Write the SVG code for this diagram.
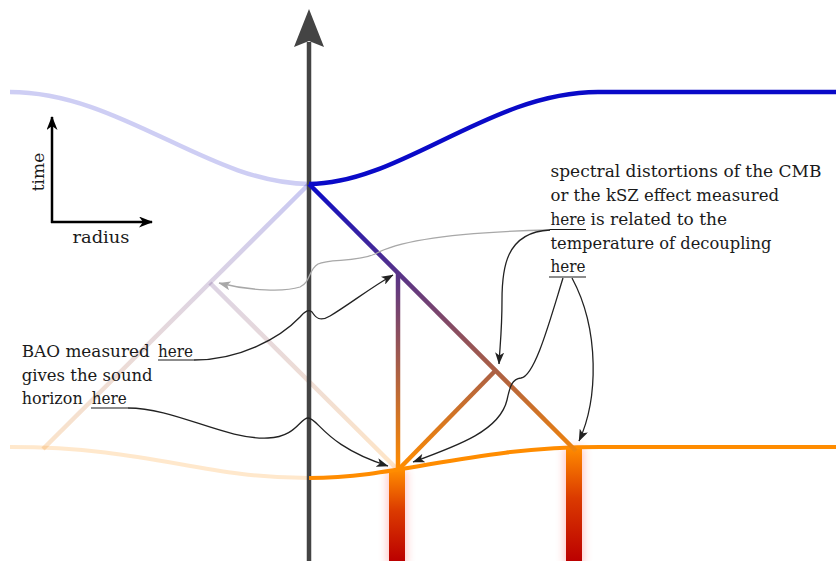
<svg xmlns="http://www.w3.org/2000/svg" width="836" height="561" viewBox="0 0 836 561">
  <style>
    text { font-family: 'DejaVu Serif', serif; font-size: 17px; fill: #1a1a1a; }
    .ul { stroke: #1a1a1a; stroke-width: 1.2; fill: none; }
    .conn { fill: none; stroke: #222; stroke-width: 1.3; marker-end: url(#ah); }
    .connGray { fill: none; stroke: #a8a8a8; stroke-width: 1.3; marker-end: url(#ahGray); }
    .cone { fill: none; stroke: url(#coneGrad); stroke-width: 4.5; stroke-linecap: butt; }
    .coneFaded { fill: none; stroke: url(#coneGrad); stroke-width: 4.5; opacity: 0.22; }
  </style>
  <defs>
    <linearGradient id="coneGrad" gradientUnits="userSpaceOnUse" x1="0" y1="184" x2="0" y2="468">
      <stop offset="0" stop-color="#0a0ac8"/>
      <stop offset="1" stop-color="#ff8c00"/>
    </linearGradient>
    <linearGradient id="barGrad" x1="0" y1="0" x2="0" y2="1">
      <stop offset="0" stop-color="#ff8c00"/>
      <stop offset="0.45" stop-color="#db3a00"/>
      <stop offset="1" stop-color="#bb0000"/>
    </linearGradient>
    <filter id="glow" x="-100%" y="-20%" width="300%" height="140%">
      <feGaussianBlur stdDeviation="4"/>
    </filter>
    <marker id="ah" viewBox="0 0 12 9" refX="11.5" refY="4.5" markerWidth="12" markerHeight="9" markerUnits="userSpaceOnUse" orient="auto">
      <path d="M0,0 L12,4.5 L0,9 L3,4.5 z" fill="#222"/>
    </marker>
    <marker id="ahGray" viewBox="0 0 12 9" refX="11.5" refY="4.5" markerWidth="12" markerHeight="9" markerUnits="userSpaceOnUse" orient="auto">
      <path d="M0,0 L12,4.5 L0,9 L3,4.5 z" fill="#a8a8a8"/>
    </marker>
    <marker id="legendArrow" viewBox="0 0 14 11" refX="13" refY="5.5" markerWidth="14" markerHeight="11" markerUnits="userSpaceOnUse" orient="auto">
      <path d="M0,0 L14,5.5 L0,11 L4,5.5 z" fill="#000"/>
    </marker>
  </defs>

  <!-- Heating bars (sources) -->
  <g id="bar-left">
    <rect x="387" y="470" width="20" height="95" fill="#ff2020" opacity="0.25" filter="url(#glow)"/>
    <rect x="389" y="470" width="16" height="91" fill="url(#barGrad)"/>
  </g>
  <g id="bar-right">
    <rect x="564" y="447" width="20" height="118" fill="#ff2020" opacity="0.25" filter="url(#glow)"/>
    <rect x="566" y="447" width="16" height="114" fill="url(#barGrad)"/>
  </g>

  <!-- Faded (mirrored) side -->
  <g id="faded-side">
    <path d="M10,92 C 120,92 210,184 309,184" fill="none" stroke="#0a0ac8" stroke-width="4.5" opacity="0.2"/>
    <path d="M10,447 C 150,447 200,478 309,478" fill="none" stroke="#ff8c00" stroke-width="4" opacity="0.2"/>
    <path class="coneFaded" d="M309,184 L43,449"/>
    <path class="coneFaded" d="M210,283 L398,470"/>
  </g>

  <!-- Time axis -->
  <g id="time-axis">
    <line x1="309" y1="561" x2="309" y2="42" stroke="#444" stroke-width="4.5"/>
    <path d="M309,9 L324,47 L309,41 L294,47 z" fill="#444"/>
  </g>

  <!-- Boundary curves -->
  <g id="blue-curve">
    <path d="M309,184 C 400,184 490,92 598,92 L836,92" fill="none" stroke="#0a0ac8" stroke-width="4.5"/>
  </g>
  <g id="orange-curve">
    <path d="M309,478 C 400,478 470,447 600,447 L836,447" fill="none" stroke="#ff8c00" stroke-width="4"/>
  </g>

  <!-- Light cones -->
  <g id="light-cones">
    <path class="cone" d="M309,184 L576,451"/>
    <path class="cone" d="M398,272 L398,470"/>
    <path class="cone" d="M398,470 L495,371"/>
  </g>

  <!-- Legend -->
  <g id="legend">
    <line x1="52" y1="223" x2="52" y2="117" stroke="#000" stroke-width="2.5" marker-end="url(#legendArrow)"/>
    <line x1="51" y1="222" x2="152" y2="222" stroke="#000" stroke-width="2.5" marker-end="url(#legendArrow)"/>
    <text x="44" y="172" text-anchor="middle" transform="rotate(-90 44 172)">time</text>
    <text x="72.5" y="243" textLength="57" lengthAdjust="spacingAndGlyphs">radius</text>
  </g>

  <!-- Left annotation -->
  <g id="bao-label">
    <text x="21.7" y="357" textLength="128" lengthAdjust="spacingAndGlyphs">BAO measured</text>
    <text x="158" y="357" textLength="35" lengthAdjust="spacingAndGlyphs">here</text>
    <text x="21.7" y="381" textLength="131" lengthAdjust="spacingAndGlyphs">gives the sound</text>
    <text x="21.7" y="404" textLength="61" lengthAdjust="spacingAndGlyphs">horizon</text>
    <text x="91.7" y="404" textLength="35" lengthAdjust="spacingAndGlyphs">here</text>
    <line class="ul" x1="158" y1="360" x2="194" y2="360"/>
    <line class="ul" x1="91" y1="408" x2="128" y2="408"/>
  </g>

  <!-- Right annotation -->
  <g id="spectral-label">
    <text x="550.5" y="177" textLength="271" lengthAdjust="spacingAndGlyphs">spectral distortions of the CMB</text>
    <text x="550.5" y="201" textLength="228.5" lengthAdjust="spacingAndGlyphs">or the kSZ effect measured</text>
    <text x="550.5" y="224.5" textLength="35" lengthAdjust="spacingAndGlyphs">here</text>
    <text x="590.5" y="224.5" textLength="136.5" lengthAdjust="spacingAndGlyphs">is related to the</text>
    <text x="550.5" y="248.5" textLength="221" lengthAdjust="spacingAndGlyphs">temperature of decoupling</text>
    <text x="550.5" y="272" textLength="35" lengthAdjust="spacingAndGlyphs">here</text>
    <line class="ul" x1="549" y1="229.5" x2="586" y2="229.5"/>
    <line class="ul" x1="549" y1="277" x2="586" y2="277"/>
  </g>

  <!-- Connectors -->
  <g id="connectors">
    <path class="connGray" d="M550,230 C 460,232 400,240 375,254 C 355,263 330,258 318,264 C 308,270 311,282 300,287 C 285,292 250,291 219,283"/>
    <path class="conn" d="M194,360 C 240,360 280,338 300,317 C 305,311 309,309 312,312 C 316,318 320,322 330,316 C 350,304 370,288 393,275"/>
    <path class="conn" d="M128,408 C 175,408 225,440 268,438 C 296,437 300,418 308,418 C 318,418 325,446 388,466"/>
    <path class="conn" d="M550,230 C 505,232 502,270 502,300 C 502,330 500,345 499,364"/>
    <path class="conn" d="M563,278 C 550,320 535,376 521,378 C 512,379 510,386 507,400 C 500,430 460,445 413,462"/>
    <path class="conn" d="M572,278 C 600,330 598,400 579,441"/>
  </g>
</svg>
